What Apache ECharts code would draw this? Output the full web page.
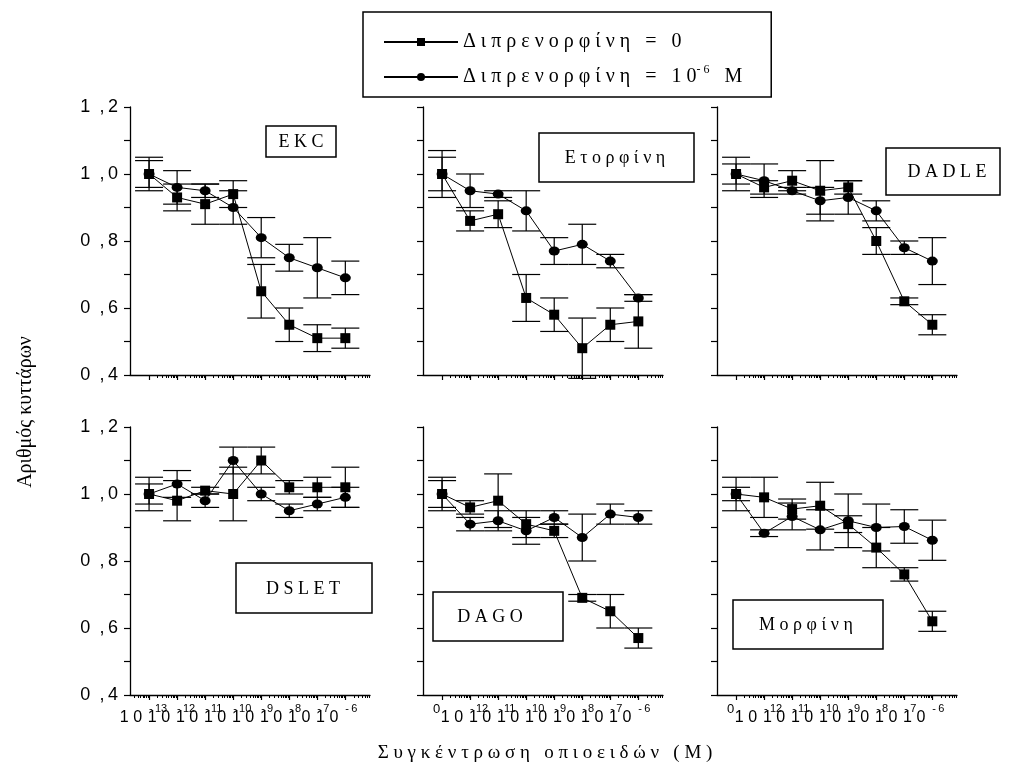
<!DOCTYPE html>
<html>
<head>
<meta charset="utf-8">
<script src="https://cdn.jsdelivr.net/npm/echarts@6/dist/echarts.min.js"></script>
<style>
html,body{margin:0;padding:0;background:#fff}
#main{width:1021px;height:773px}
</style>
</head>
<body>
<div id="main"></div>
<script>
// x: one step per decade (first point = control or 10^-13)
var xPos = [0, 1, 2, 3, 4, 5, 6, 7];
var xLabelsA = ['-13', '-12', '-11', '-10', '-9', '-8', '-7', '-6'];
var xLabelsB = ['0', '-12', '-11', '-10', '-9', '-8', '-7', '-6'];
var yTicks = [0.4, 0.5, 0.6, 0.7, 0.8, 0.9, 1.0, 1.1, 1.2];
var yLabels = [0.4, 0.6, 0.8, 1.0, 1.2];

// ■ Διπρενορφίνη = 0 / ● Διπρενορφίνη = 10^-6 M
var ekcCtrl = [1.00, 0.93, 0.91, 0.94, 0.65, 0.55, 0.51, 0.51];
var ekcCtrlErr = [0.05, 0.04, 0.06, 0.04, 0.08, 0.05, 0.04, 0.03];
var ekcDip = [1.00, 0.96, 0.95, 0.90, 0.81, 0.75, 0.72, 0.69];
var ekcDipErr = [0.04, 0.05, 0.02, 0.05, 0.06, 0.04, 0.09, 0.05];

var etoCtrl = [1.00, 0.86, 0.88, 0.63, 0.58, 0.48, 0.55, 0.56];
var etoCtrlErr = [0.07, 0.03, 0.04, 0.07, 0.05, 0.09, 0.05, 0.08];
var etoDip = [1.00, 0.95, 0.94, 0.89, 0.77, 0.79, 0.74, 0.63];
var etoDipErr = [0.05, 0.05, 0.01, 0.06, 0.04, 0.06, 0.02, 0.01];

var dadleCtrl = [1.00, 0.96, 0.98, 0.95, 0.96, 0.80, 0.62, 0.55];
var dadleCtrlErr = [0.05, 0.02, 0.03, 0.09, 0.02, 0.04, 0.01, 0.03];
var dadleDip = [1.00, 0.98, 0.95, 0.92, 0.93, 0.89, 0.78, 0.74];
var dadleDipErr = [0.03, 0.05, 0.01, 0.04, 0.05, 0.03, 0.02, 0.07];

var dsletCtrl = [1.00, 0.98, 1.01, 1.00, 1.10, 1.02, 1.02, 1.02];
var dsletCtrlErr = [0.05, 0.06, 0.01, 0.08, 0.04, 0.02, 0.03, 0.06];
var dsletDip = [1.00, 1.03, 0.98, 1.10, 1.00, 0.95, 0.97, 0.99];
var dsletDipErr = [0.03, 0.04, 0.02, 0.04, 0.02, 0.02, 0.02, 0.03];

var dagoCtrl = [1.00, 0.96, 0.98, 0.91, 0.89, 0.69, 0.65, 0.57];
var dagoCtrlErr = [0.05, 0.02, 0.08, 0.04, 0.02, 0.01, 0.05, 0.03];
var dagoDip = [1.00, 0.91, 0.92, 0.89, 0.93, 0.87, 0.94, 0.93];
var dagoDipErr = [0.04, 0.02, 0.03, 0.04, 0.02, 0.07, 0.03, 0.02];

var morCtrl = [1.00, 0.99, 0.955, 0.965, 0.91, 0.84, 0.76, 0.62];
var morCtrlErr = [0.05, 0.06, 0.03, 0.07, 0.025, 0.06, 0.02, 0.03];
var morDip = [1.00, 0.883, 0.933, 0.893, 0.92, 0.90, 0.903, 0.862];
var morDipErr = [0.02, 0.01, 0.04, 0.06, 0.08, 0.07, 0.05, 0.06];

var nameCtrl = 'Διπρενορφίνη = 0';
var nameDip = 'Διπρενορφίνη = 10-6 M';

var SERIF = '"Liberation Serif", "DejaVu Serif", serif';
var SANS = '"Liberation Sans", Arial, sans-serif';
var xMin = -0.68, xMax = 7.88;
var baseShift = 0.25;   //'1 0' ends a little left of the tick
var zeroShift = 0.32;   //control '0' label

var panels = [
    {title: 'E K C', ctrl: ekcCtrl, ctrlErr: ekcCtrlErr, dip: ekcDip, dipErr: ekcDipErr,
        left: 130, top: 107, labels: xLabelsA, yLab: true, xLab: false, lead: false,
        box: [266, 126, 70, 31], tx: 301, ty: 142},
    {title: 'Ε τ ο ρ φ ί ν η', ctrl: etoCtrl, ctrlErr: etoCtrlErr, dip: etoDip, dipErr: etoDipErr,
        left: 423, top: 107, labels: xLabelsB, yLab: false, xLab: false, lead: false,
        box: [539, 133, 155, 49], tx: 615, ty: 158},
    {title: 'D A D L E', ctrl: dadleCtrl, ctrlErr: dadleCtrlErr, dip: dadleDip, dipErr: dadleDipErr,
        left: 717, top: 107, labels: xLabelsB, yLab: false, xLab: false, lead: false,
        box: [886, 148, 114, 47], tx: 947, ty: 172},
    {title: 'D S L E T', ctrl: dsletCtrl, ctrlErr: dsletCtrlErr, dip: dsletDip, dipErr: dsletDipErr,
        left: 130, top: 427, labels: xLabelsA, yLab: true, xLab: true, lead: true,
        box: [236, 563, 136, 50], tx: 303, ty: 589},
    {title: 'D A G O', ctrl: dagoCtrl, ctrlErr: dagoCtrlErr, dip: dagoDip, dipErr: dagoDipErr,
        left: 423, top: 427, labels: xLabelsB, yLab: false, xLab: true, lead: false,
        box: [433, 592, 130, 49], tx: 490, ty: 617},
    {title: 'Μ ο ρ φ ί ν η', ctrl: morCtrl, ctrlErr: morCtrlErr, dip: morDip, dipErr: morDipErr,
        left: 717, top: 427, labels: xLabelsB, yLab: false, xLab: true, lead: false,
        box: [733, 600, 150, 49], tx: 806, ty: 625}
];

//log minor ticks between the decades
function minorTicks(lead) {
    var out = [];
    for (var k = lead ? -1 : 0; k < 8; k++) {
        for (var m = 2; m < 10; m++) {
            var t = k + Math.log10(m);
            if (t > xMin && t < xMax) out.push(t);
        }
    }
    return out;
}

function pairs(vals) {
    return vals.map(function (v, k) { return [xPos[k], v]; });
}

function errSeries(xi, yi, vals, errs) {
    return {
        type: 'custom',
        xAxisIndex: xi,
        yAxisIndex: yi,
        silent: true,
        z: 1,
        data: vals.map(function (v, k) { return [xPos[k], v - errs[k], v + errs[k]]; }),
        renderItem: function (params, api) {
            var x = api.value(0);
            var lo = api.coord([x, api.value(1)]);
            var hi = api.coord([x, api.value(2)]);
            var w = 14;
            var st = {stroke: '#000', lineWidth: 1.2};
            return {
                type: 'group',
                children: [
                    {type: 'line', shape: {x1: lo[0], y1: lo[1], x2: hi[0], y2: hi[1]}, style: st},
                    {type: 'line', shape: {x1: lo[0] - w, y1: lo[1], x2: lo[0] + w, y2: lo[1]}, style: st},
                    {type: 'line', shape: {x1: hi[0] - w, y1: hi[1], x2: hi[0] + w, y2: hi[1]}, style: st}
                ]
            };
        }
    };
}

function lineSeries(name, xi, yi, vals, symbol, size) {
    return {
        name: name,
        type: 'line',
        xAxisIndex: xi,
        yAxisIndex: yi,
        data: pairs(vals),
        symbol: symbol,
        symbolSize: size,
        showSymbol: true,
        z: 3,
        lineStyle: {color: '#000', width: 1},
        itemStyle: {color: '#000', borderWidth: 0},
        emphasis: {disabled: true}
    };
}

var grid = [], xAxis = [], yAxis = [], series = [], graphic = [];

panels.forEach(function (p, i) {
    var labels = p.labels;
    //where the '1 0' parts and the exponents sit
    var baseAt = [], supAt = [];
    xPos.forEach(function (x, k) {
        if (labels[k] === '0') supAt.push(x - zeroShift);
        else { baseAt.push(x - baseShift); supAt.push(x); }
    });
    grid.push({left: p.left, top: p.top, width: 240, height: 268, containLabel: false, outerBoundsMode: 'none'});
    //major ticks + '1 0'
    xAxis.push({
        gridIndex: i, type: 'value', min: xMin, max: xMax, position: 'bottom',
        axisLine: {onZero: false, lineStyle: {color: '#000', width: 1.3}},
        axisTick: {show: true, customValues: xPos, length: 5, lineStyle: {color: '#000', width: 1.2}},
        axisLabel: {
            show: p.xLab, customValues: baseAt, margin: 15, color: '#000', align: 'right',
            fontFamily: SANS, fontSize: 16, showMinLabel: true, showMaxLabel: true, hideOverlap: false,
            formatter: function () { return '1 0'; }
        },
        splitLine: {show: false}
    });
    //minor ticks + exponents
    xAxis.push({
        gridIndex: i, type: 'value', min: xMin, max: xMax, position: 'bottom',
        axisLine: {show: false, onZero: false},
        axisTick: {show: true, customValues: minorTicks(p.lead), length: 3, lineStyle: {color: '#000', width: 1}},
        axisLabel: {
            show: p.xLab, customValues: supAt, margin: 8, color: '#000', align: 'left',
            fontFamily: SANS, fontSize: 11, showMinLabel: true, showMaxLabel: true, hideOverlap: false,
            formatter: function (v) {
                var k = Math.round(v);
                if (labels[k] === '0' && Math.abs(v - k) > 0.01) return '{z|0}';
                return '-\u2009' + labels[k].slice(1);
            },
            rich: {z: {fontSize: 13, fontFamily: SANS, color: '#000'}}
        },
        splitLine: {show: false}
    });
    yAxis.push({
        gridIndex: i, type: 'value', min: 0.4, max: 1.2,
        axisLine: {show: true, onZero: false, lineStyle: {color: '#000', width: 1.3}},
        axisTick: {show: true, customValues: yTicks, length: 6, lineStyle: {color: '#000', width: 1.2}},
        axisLabel: {
            show: p.yLab, customValues: yLabels, margin: 12, color: '#000',
            fontFamily: SANS, fontSize: 18, showMinLabel: true, showMaxLabel: true,
            formatter: function (v) {
                var s = v.toFixed(1);
                return s.charAt(0) + '\u2002,\u2009' + s.charAt(2);
            }
        },
        splitLine: {show: false}
    });
    series.push(errSeries(i * 2, i, p.ctrl, p.ctrlErr));
    series.push(errSeries(i * 2, i, p.dip, p.dipErr));
    series.push(lineSeries(nameCtrl, i * 2, i, p.ctrl, 'rect', 10));
    series.push(lineSeries(nameDip, i * 2, i, p.dip, 'circle', [11, 9]));

    //panel name box
    graphic.push({
        type: 'rect', z: 10,
        shape: {x: p.box[0], y: p.box[1], width: p.box[2], height: p.box[3]},
        style: {fill: '#fff', stroke: '#000', lineWidth: 1.5}
    });
    graphic.push({
        type: 'text', z: 11, x: p.tx, y: p.ty,
        style: {text: p.title, fill: '#000', font: '18px ' + SERIF, align: 'center', verticalAlign: 'middle'}
    });
});

//axis titles
graphic.push({
    type: 'text', x: 545, y: 753,
    style: {text: 'Σ υ γ κ έ ν τ ρ ω σ η   ο π ι ο ε ι δ ώ ν   ( Μ )', fill: '#000',
        font: '19px ' + SERIF, align: 'center', verticalAlign: 'middle'}
});
graphic.push({
    type: 'text', x: 26, y: 412, rotation: Math.PI / 2,
    style: {text: 'Αριθμός κυττάρων', fill: '#000', font: '20px ' + SERIF, align: 'center', verticalAlign: 'middle'}
});

var chart = echarts.init(document.getElementById('main'), null, {renderer: 'canvas'});
chart.setOption({
    backgroundColor: '#fff',
    animation: false,
    legend: {
        data: [nameCtrl, nameDip],
        orient: 'vertical',
        left: 363,
        top: 12,
        padding: [17, 29, 7, 20],
        itemWidth: 74,
        itemHeight: 10,
        itemGap: 9,
        borderColor: '#000',
        borderWidth: 1.5,
        backgroundColor: '#fff',
        selectedMode: false,
        formatter: function (name) {
            if (name === nameCtrl) return 'Δ ι π ρ ε ν ο ρ φ ί ν η   =   0';
            return 'Δ ι π ρ ε ν ο ρ φ ί ν η   =   1 0{sup|- 6}   Μ';
        },
        textStyle: {
            fontFamily: SERIF, fontSize: 20, lineHeight: 26, color: '#000',
            rich: {sup: {fontSize: 12, verticalAlign: 'top', fontFamily: SERIF, color: '#000'}}
        }
    },
    grid: grid,
    xAxis: xAxis,
    yAxis: yAxis,
    series: series,
    graphic: graphic
});
</script>
</body>
</html>
